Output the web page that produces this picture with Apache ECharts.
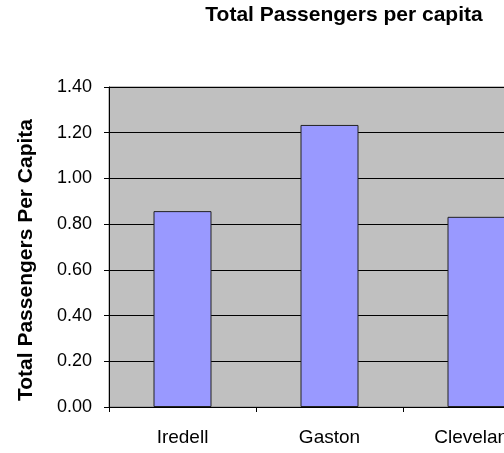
<!DOCTYPE html>
<html>
<head>
<meta charset="utf-8">
<script src="https://cdn.jsdelivr.net/npm/echarts@6/dist/echarts.min.js"></script>
<style>
html,body{margin:0;padding:0;background:#fff;overflow:hidden;width:504px;height:453px;}
#chart{width:551px;height:453px;}
</style>
</head>
<body>
<div id="chart"></div>
<script>
var chartTitle = 'Total Passengers per capita';
var yAxisTitle = 'Total Passengers Per Capita';
var categories = ['Iredell', 'Gaston', 'Cleveland'];
var passengersPerCapita = [0.857, 1.234, 0.832];
var yMin = 0, yMax = 1.4, yStep = 0.2;

var FONT = "'Liberation Sans', Arial, sans-serif";
var chart = echarts.init(document.getElementById('chart'), null, {renderer: 'canvas'});
chart.setOption({
  animation: false,
  backgroundColor: '#ffffff',
  graphic: [
    {
      type: 'text',
      x: 344, y: 15,
      style: {
        text: chartTitle,
        font: 'bold 21px ' + FONT,
        fill: '#000',
        align: 'center',
        verticalAlign: 'middle'
      }
    },
    {
      type: 'text',
      x: 26, y: 260,
      rotation: Math.PI / 2,
      style: {
        text: yAxisTitle,
        font: 'bold 21px ' + FONT,
        fill: '#000',
        align: 'center',
        verticalAlign: 'middle'
      }
    }
  ],
  grid: {
    left: 109,
    top: 87,
    right: 1,
    bottom: 46,
    show: true,
    backgroundColor: '#c0c0c0',
    borderColor: '#808080',
    borderWidth: 1,
    containLabel: false
  },
  xAxis: {
    type: 'category',
    data: categories,
    axisLine: {show: true, lineStyle: {color: '#000', width: 1}},
    axisTick: {show: true, length: 5, lineStyle: {color: '#000'}},
    axisLabel: {color: '#000', fontFamily: FONT, fontSize: 19, margin: 21},
    splitLine: {show: false}
  },
  yAxis: {
    type: 'value',
    min: yMin,
    max: yMax,
    interval: yStep,
    axisLine: {show: true, lineStyle: {color: '#000', width: 1}},
    axisTick: {show: true, length: 5, lineStyle: {color: '#000'}},
    axisLabel: {
      color: '#000', fontFamily: FONT, fontSize: 18, margin: 17,
      formatter: function (v) { return v.toFixed(2); }
    },
    splitLine: {show: true, lineStyle: {color: '#000', width: 1}}
  },
  series: [{
    type: 'bar',
    data: passengersPerCapita,
    barWidth: 58,
    itemStyle: {color: '#9999ff', borderColor: '#222', borderWidth: 1}
  }]
});
</script>
</body>
</html>
